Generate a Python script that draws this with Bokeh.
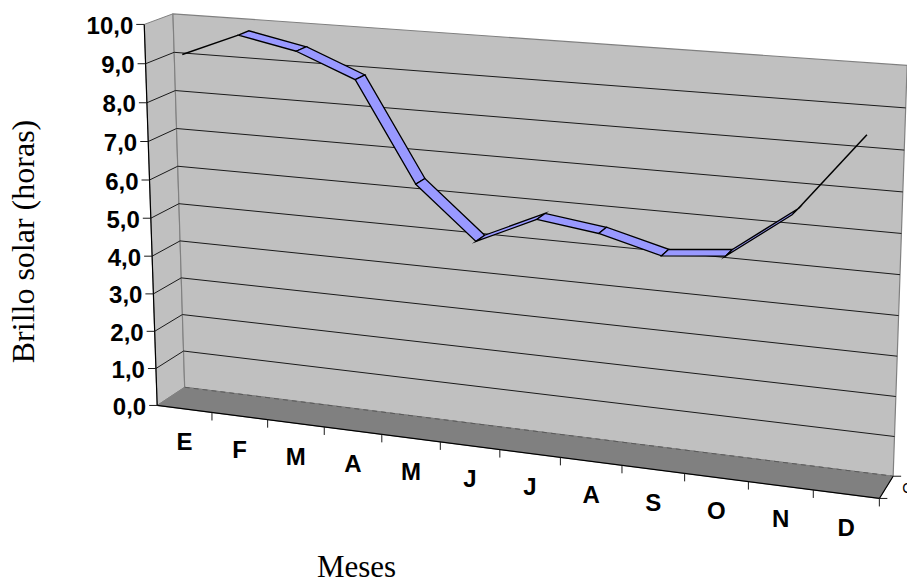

import numpy as np
from bokeh.plotting import figure
from bokeh.models import Range1d
from bokeh.core.properties import value
from bokeh.embed import file_html
from bokeh.resources import INLINE

months = ["E", "F", "M", "A", "M", "J", "J", "A", "S", "O", "N", "D"]
brillo = [9.2, 9.8, 9.5, 8.9, 6.4, 5.1, 5.8, 5.6, 5.2, 5.35, 6.5, 8.4]
value_ticks = [0, 1, 2, 3, 4, 5, 6, 7, 8, 9, 10]
tick_labels = ["0,0", "1,0", "2,0", "3,0", "4,0", "5,0", "6,0", "7,0", "8,0", "9,0", "10,0"]
y_title = "Brillo solar (horas)"
x_title = "Meses"
depth_label = "C"

# camera of the 3-D box: box coordinates (month, value, depth) -> page pixels
camera = [((0,0,0),(157,405)),((0,10,0),(143,24)),((0,0,1),(184,387)),((0,10,1),(172,13)),
          ((12,0,1),(893,475)),((12,10,1),(907,64)),((12,0,0),(879,498)),((0,9,1),(174,52)),
          ((0,8,1),(175,90)),((12,9,1),(905,108)),((12,8,1),(903.5,150)),((12,7,1),(902,192)),
          ((12,6,1),(901,233)),((12,1,1),(894,436)),((0,9,0),(146,63)),((0,1,0),(156,368)),
          ((3,0,0),(323,426.5)),((1,0,0),(211,412))]
rows = []
for (X, Y, Z), (u, v) in camera:
    rows.append([X, Y, Z, 1, 0, 0, 0, 0, -u*X, -u*Y, -u*Z, -u])
    rows.append([0, 0, 0, 0, X, Y, Z, 1, -v*X, -v*Y, -v*Z, -v])
P = np.linalg.svd(np.array(rows, float))[2][-1].reshape(3, 4)

def proj(x, y, z):
    h = P @ np.array([x, y, z, 1.0])
    return float(h[0] / h[2]), float(h[1] / h[2])

def quad(p, corners, **kw):
    pts = [proj(*c) for c in corners]
    p.patch([a for a, _ in pts], [b for _, b in pts], **kw)

def seg(p, a, b, **kw):
    (x0, y0), (x1, y1) = proj(*a), proj(*b)
    p.line([x0, x1], [y0, y1], **kw)

p = figure(width=907, height=584, x_range=Range1d(0, 907), y_range=Range1d(584, 0),
           output_backend="svg", toolbar_location=None, min_border=0,
           x_axis_type=None, y_axis_type=None, outline_line_color=None)
p.grid.visible = False

n = len(months)
top = value_ticks[-1]
WALL, FLOOR, EDGE = "#C0C0C0", "#808080", "#808080"

quad(p, [(0,0,0),(0,top,0),(0,top,1),(0,0,1)], fill_color=WALL, line_color=EDGE, line_width=1)
quad(p, [(0,0,1),(0,top,1),(n,top,1),(n,0,1)], fill_color=WALL, line_color=EDGE, line_width=1.2)
quad(p, [(0,0,0),(0,0,1),(n,0,1),(n,0,0)], fill_color=FLOOR, line_color=FLOOR, line_width=1)
seg(p, (0,0,1), (n,0,1), line_color="#5a5a5a", line_width=1, line_dash="5 4")

# gridlines on both walls
for t in value_ticks[1:-1]:
    seg(p, (0,t,0), (0,t,1), line_color="#1a1a1a", line_width=1)
    seg(p, (0,t,1), (n,t,1), line_color="#1a1a1a", line_width=1)

# axes and ticks
seg(p, (0,0,0), (0,top,0), line_color="black", line_width=1.2)
seg(p, (0,0,0), (n,0,0), line_color="black", line_width=1.2)
seg(p, (n,0,0), (n,0,1), line_color="black", line_width=1.2)
lx, ly = [], []
for t in value_ticks:
    x, y = proj(0, t, 0)
    p.line([x-8, x], [y, y], line_color="#1a1a1a", line_width=1)
    lx.append(x-11); ly.append(y+1)
for i in range(1, n+1):
    x, y = proj(i, 0, 0)
    p.line([x, x], [y, y+8], line_color="#1a1a1a", line_width=1)
for z in (0, 1):
    x, y = proj(n, 0, z)
    p.line([x, x+8], [y, y], line_color="#1a1a1a", line_width=1)

ax_font = value("Liberation Sans")
p.text(lx, ly, text=tick_labels, text_font=ax_font, text_font_size="24px", text_font_style="bold",
       text_align="right", text_baseline="middle", text_color="black")

mx, my = [], []
for i in range(n):
    x, y = proj(i+0.5, 0, 0)
    mx.append(x); my.append(y+33)
p.text(mx, my, text=months, text_font=ax_font, text_font_size="24px", text_font_style="bold",
       text_align="center", text_baseline="middle", text_color="black")

# ribbon: first and last stretches are seen edge-on and appear as a single line
Z0, Z1 = 0.31, 0.70
for i in range(n-1):
    a, b = brillo[i], brillo[i+1]
    if i == 0:
        seg(p, (i+.5,a,Z0), (i+1.5,b,Z0), line_color="black", line_width=1.5)
    elif i == n-2:
        seg(p, (i+.5,a,Z1), (i+1.5,b,Z1), line_color="black", line_width=1.5)
    else:
        quad(p, [(i+.5,a,Z0),(i+1.5,b,Z0),(i+1.5,b,Z1),(i+.5,a,Z1)],
             fill_color="#9999FF", line_color="black", line_width=1.3, line_join="miter")

serif = value("Liberation Serif")
p.text([22], [241], text=[y_title], text_font=serif, text_font_size="32px", angle=np.pi/2,
       text_align="center", text_baseline="middle", text_color="black")
p.text([356], [566], text=[x_title], text_font=serif, text_font_size="31px",
       text_align="center", text_baseline="middle", text_color="black")
ex, ey = proj(n, 0, 0.5)
p.text([ex+16], [ey+1], text=[depth_label], text_font=ax_font, text_font_size="14px",
       text_align="left", text_baseline="middle", text_color="black")

open("out.html", "w").write(file_html(p, INLINE))
